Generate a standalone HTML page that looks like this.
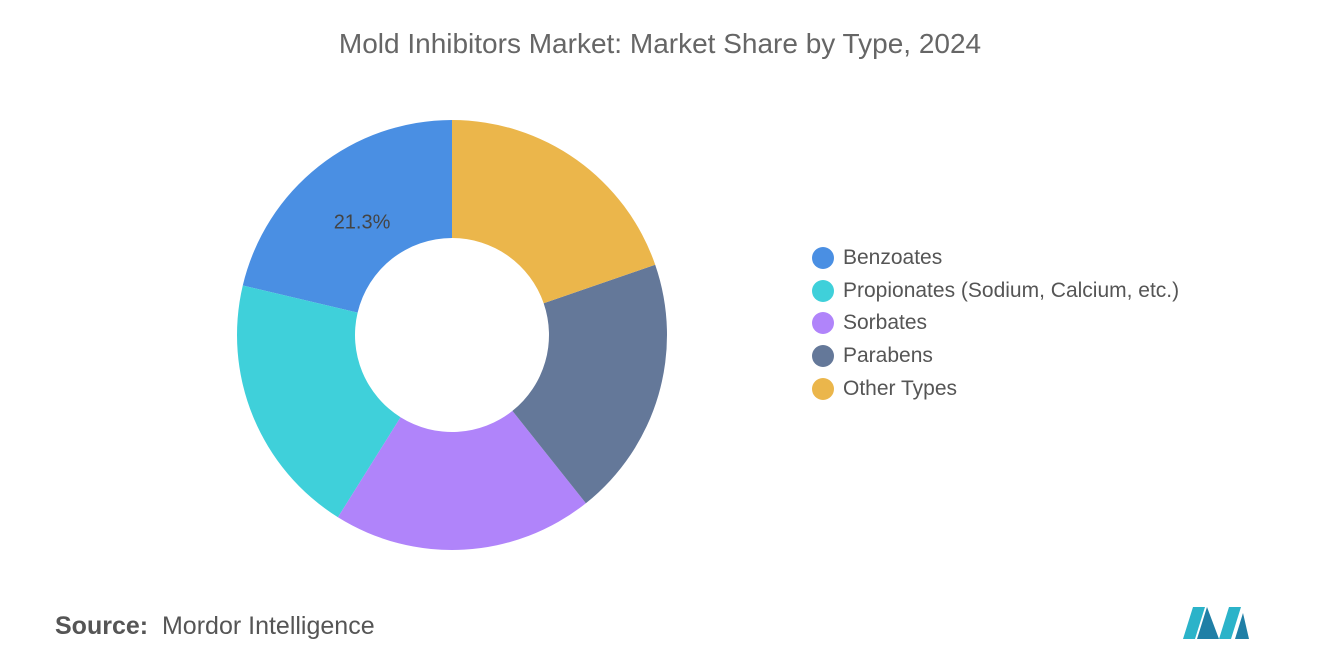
<!DOCTYPE html>
<html><head><meta charset="utf-8"><style>
body{margin:0;width:1320px;height:665px;background:#fff;font-family:"Liberation Sans",sans-serif;overflow:hidden;position:relative}
#title{position:absolute;top:28px;left:0;width:1320px;text-align:center;font-size:28px;color:#666}
.leg{position:absolute;left:812px;font-size:21px;color:#555;display:flex;align-items:center}
.leg span.dot{width:22px;height:22px;border-radius:50%;margin-right:9px;display:inline-block}
#source{position:absolute;left:55px;top:612px;font-size:25px;color:#555}
</style></head><body>
<div id="title">Mold Inhibitors Market: Market Share by Type, 2024</div>
<svg id="chart" width="1320" height="665" style="position:absolute;left:0;top:0"></svg>
<div id="legend"></div>
<div id="source"><b style="font-weight:600">Source:</b>&nbsp; Mordor Intelligence</div>
<svg width="70" height="40" style="position:absolute;left:1183px;top:603px">
<polygon points="0,36 10,4 22,4 12,36" fill="#2bb3c9"/><polygon points="14,36 24,4 36,36" fill="#1f7fa6"/>
<polygon points="36,36 46,4 58,4 48,36" fill="#2bb3c9"/><polygon points="52,36 60,10 66,36" fill="#1f7fa6"/>
</svg>
<script>
const categories=["Benzoates","Propionates (Sodium, Calcium, etc.)","Sorbates","Parabens","Other Types"];
const values=[21.3,19.8,19.6,19.6,19.7];
const colors=["#4a8fe3","#3fd0da","#b084fa","#647899","#ebb64b"];
const labels=["21.3%","","","",""];
const svg=document.getElementById('chart');
const cx=452,cy=335,R=215,r=97;
const total=values.reduce((a,b)=>a+b,0);
function pt(a,rad){return [cx+rad*Math.sin(a),cy-rad*Math.cos(a)];}
let start=0;
values.forEach((v,i)=>{
  const sweep=v/total*2*Math.PI;
  const a0=-start,a1=-(start+sweep);
  const [x0,y0]=pt(a0,R),[x1,y1]=pt(a1,R),[x2,y2]=pt(a1,r),[x3,y3]=pt(a0,r);
  const lg=sweep>Math.PI?1:0;
  const p=document.createElementNS("http://www.w3.org/2000/svg","path");
  p.setAttribute('d',`M${x0},${y0}A${R},${R} 0 ${lg} 0 ${x1},${y1}L${x2},${y2}A${r},${r} 0 ${lg} 1 ${x3},${y3}Z`);
  p.setAttribute('fill',colors[i]);
  
  
  svg.appendChild(p);
  if(labels[i]){
    const mid=-(start+sweep/2);
    const [lx,ly]=pt(mid,145);
    const t=document.createElementNS("http://www.w3.org/2000/svg","text");
    t.setAttribute('x',lx);t.setAttribute('y',ly+7);
    t.setAttribute('text-anchor','middle');t.setAttribute('font-size','20');t.setAttribute('fill','#444');
    t.setAttribute('font-family','Liberation Sans, sans-serif');
    t.textContent=labels[i];
    
    
    svg.appendChild(t);
  }
  start+=sweep;
});
const leg=document.getElementById('legend');
categories.forEach((c,i)=>{
  const d=document.createElement('div');
  d.className='leg';d.style.top=(246+i*32.7)+'px';
  
  
  d.innerHTML=`<span class="dot" style="background:${colors[i]}"></span>${c}`;
  leg.appendChild(d);
});
</script>
</body></html>
